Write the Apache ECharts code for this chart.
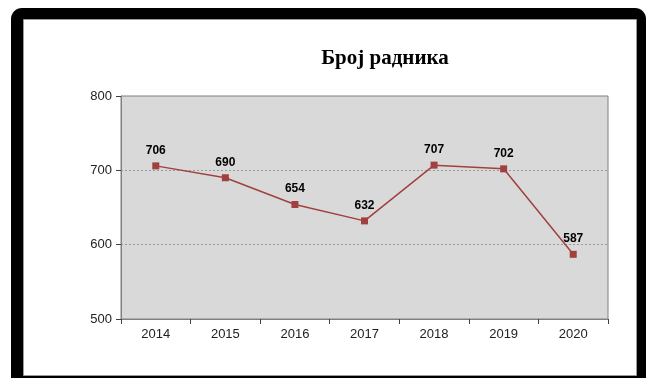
<!DOCTYPE html>
<html>
<head>
<meta charset="utf-8">
<style>
  html, body { margin: 0; padding: 0; background: #ffffff; }
  #chart { width: 648px; height: 378px; }
</style>
<script src="https://cdn.jsdelivr.net/npm/echarts@6/dist/echarts.min.js"></script>
</head>
<body>
<div id="chart"></div>
<script>
// Број радника по годинама
const years = ['2014', '2015', '2016', '2017', '2018', '2019', '2020'];
const workers = [706, 690, 654, 632, 707, 702, 587];
const yTicks = [500, 600, 700, 800];

const chart = echarts.init(document.getElementById('chart'), null, { renderer: 'canvas' });

chart.setOption({
  animation: false,
  title: {
    text: 'Број радника',
    left: 380,
    textAlign: 'center',
    top: 43,
    textStyle: {
      fontFamily: '"Liberation Serif", "Times New Roman", serif',
      fontWeight: 'bold',
      fontSize: 21,
      color: '#000000'
    }
  },
  graphic: [
    {
      type: 'rect',
      z: -10,
      shape: { x: 11, y: 8, width: 635, height: 390, r: 11 },
      style: { fill: '#000000' }
    },
    {
      type: 'rect',
      z: -9,
      shape: { x: 23.5, y: 19.5, width: 613, height: 356 },
      style: { fill: '#ffffff', stroke: '#9a9a9a', lineWidth: 1 }
    }
  ],
  grid: {
    left: 121,
    right: 40,
    top: 96,
    bottom: 59,
    show: true,
    backgroundColor: '#d9d9d9',
    borderColor: '#808080',
    borderWidth: 1
  },
  xAxis: {
    type: 'category',
    data: years,
    boundaryGap: true,
    axisLine: { show: true, lineStyle: { color: '#808080', width: 1 } },
    axisTick: { show: true, length: 5, inside: false, lineStyle: { color: '#404040' } },
    axisLabel: {
      margin: 9,
      fontFamily: '"Liberation Sans", Arial, sans-serif',
      fontSize: 13,
      color: '#222222'
    },
    splitLine: { show: false }
  },
  yAxis: {
    type: 'value',
    min: yTicks[0],
    max: yTicks[yTicks.length - 1],
    interval: 100,
    axisLine: { show: true, lineStyle: { color: '#808080', width: 1 } },
    axisTick: { show: true, length: 5, lineStyle: { color: '#404040' } },
    axisLabel: {
      margin: 9,
      fontFamily: '"Liberation Sans", Arial, sans-serif',
      fontSize: 13,
      color: '#222222'
    },
    splitLine: {
      show: true,
      showMinLine: false,
      showMaxLine: false,
      lineStyle: { color: '#9a9a9a', type: [2, 2], width: 1 }
    }
  },
  series: [
    {
      type: 'line',
      data: workers,
      symbol: 'rect',
      symbolSize: 7,
      lineStyle: { color: '#a0403f', width: 1.5 },
      itemStyle: { color: '#a0403f' },
      label: {
        show: true,
        position: 'top',
        distance: 6,
        fontFamily: '"Liberation Sans", Arial, sans-serif',
        fontWeight: 'bold',
        fontSize: 12,
        color: '#000000'
      }
    }
  ]
});
</script>
</body>
</html>
